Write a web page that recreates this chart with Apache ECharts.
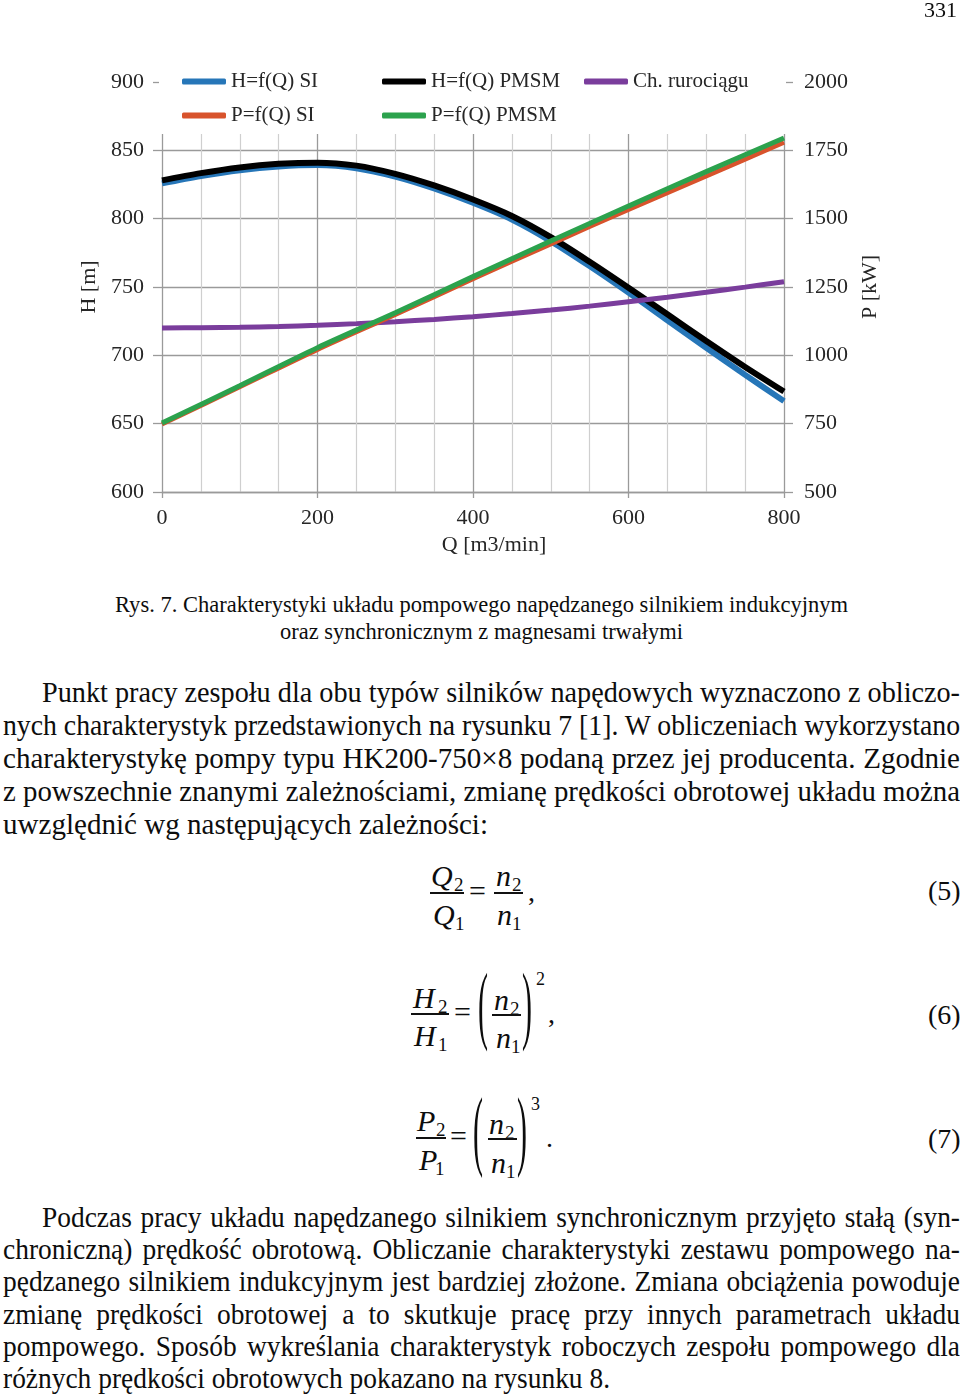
<!DOCTYPE html>
<html>
<head>
<meta charset="utf-8">
<script src="https://cdn.jsdelivr.net/npm/echarts@6/dist/echarts.min.js"></script>
<style>
  html, body { margin:0; padding:0; background:#fff; }
  body { width:960px; height:1397px; position:relative; overflow:hidden; font-family:"Liberation Serif","Times New Roman",serif; color:#0d0d0d; }
  #chart { position:absolute; left:0; top:0; width:960px; height:570px; }
  .t { position:absolute; white-space:nowrap; line-height:1; }
  .ln { position:absolute; white-space:nowrap; transform-origin:0 50%; }
  .bar { position:absolute; height:1.5px; background:#111; }
</style>
</head>
<body>
<div id="chart"></div>
<div id="page"></div>
<script>
// ---------------- data ----------------
const Q_H = [0, 50, 100, 150, 200, 250, 300, 350, 400, 450, 500, 550, 600, 650, 700, 750, 800];
const H_SI   = [825.8, 831.2, 835.5, 838.2, 839.2, 836.9, 830.8, 822.1, 811.6, 799.4, 783.6, 765.3, 745.9, 725.7, 705.5, 685.7, 666.5];
const H_PMSM = [828.0, 833.3, 837.5, 840.1, 841.0, 838.8, 832.8, 824.3, 814.0, 802.0, 786.5, 768.5, 749.5, 730.0, 710.5, 691.5, 673.5];
const H_PIPE = [720.0, 720.2, 720.5, 721.1, 722.0, 723.2, 724.6, 726.3, 728.3, 730.6, 733.1, 736.0, 739.2, 742.5, 746.1, 749.9, 753.8];
const Q_P = [0, 100, 200, 300, 400, 500, 600, 700, 800];
const P_SI   = [748, 884, 1021, 1149, 1279, 1407, 1533, 1655, 1779];
const P_PMSM = [752, 889, 1028, 1156, 1288, 1418, 1546, 1672, 1795];
const X_TICKS = { min: 0, max: 800, step: 200 };
const H_TICKS = { min: 600, max: 900, step: 50 };
const P_TICKS = { min: 500, max: 2000, step: 250 };
const NAMES = ['H=f(Q) SI', 'H=f(Q) PMSM', 'Ch. rurociągu', 'P=f(Q) SI', 'P=f(Q) PMSM'];
const COLORS = ['#2676b8', '#000000', '#7a3d9c', '#d8532c', '#2ca24d'];

function pairs(xs, ys) { return xs.map((x, i) => [x, ys[i]]); }

const FONT = '"Liberation Serif","Times New Roman",serif';
const txt = { fontFamily: FONT, fontSize: 22, color: '#262626' };

const chart = echarts.init(document.getElementById('chart'), null, { renderer: 'canvas' });
const legendBase = {
  orient: 'vertical', top: 71, padding: 0, itemGap: 13, itemWidth: 44, itemHeight: 6,
  icon: 'roundRect', textStyle: Object.assign({}, txt, { fontSize: 21 }), z: 10
};
const plain = v => String(v);
chart.setOption({
  animation: false,
  backgroundColor: '#fff',
  grid: { left: 162, right: 176, top: 82, bottom: 78 },
  legend: [
    Object.assign({}, legendBase, { left: 182, data: [NAMES[0], NAMES[3]] }),
    Object.assign({}, legendBase, { left: 382, data: [NAMES[1], NAMES[4]] }),
    Object.assign({}, legendBase, { left: 584, data: [NAMES[2]] })
  ],
  graphic: [{
    type: 'rect', z: 5, silent: true,
    shape: { x: 159, y: 60, width: 627, height: 74 },
    style: { fill: '#fff' }
  }],
  xAxis: {
    type: 'value', min: X_TICKS.min, max: X_TICKS.max, interval: X_TICKS.step,
    name: 'Q [m3/min]', nameLocation: 'middle', nameGap: 40,
    nameTextStyle: Object.assign({}, txt, { padding: [0, 0, 0, 42] }),
    axisLine: { show: true, lineStyle: { color: '#9a9a9a', width: 1.3 } },
    axisTick: { show: true, length: 6, lineStyle: { color: '#9a9a9a', width: 1.3 } },
    axisLabel: Object.assign({}, txt, { margin: 15, formatter: plain }),
    splitLine: { show: true, lineStyle: { color: '#9a9a9a', width: 1.3 } },
    minorTick: { show: false, splitNumber: 4 },
    minorSplitLine: { show: true, lineStyle: { color: '#cfcfcf', width: 1.2 } }
  },
  yAxis: [{
    type: 'value', min: H_TICKS.min, max: H_TICKS.max, interval: H_TICKS.step,
    name: 'H [m]', nameLocation: 'middle', nameGap: 58, nameRotate: 90,
    nameTextStyle: Object.assign({}, txt),
    axisLine: { show: false },
    axisTick: { show: true, length: 9, lineStyle: { color: '#9a9a9a', width: 1.3 } },
    axisLabel: Object.assign({}, txt, { margin: 18, formatter: plain }),
    splitLine: { show: true, lineStyle: { color: '#9a9a9a', width: 1.3 } }
  }, {
    type: 'value', position: 'right', min: P_TICKS.min, max: P_TICKS.max, interval: P_TICKS.step,
    name: 'P [kW]', nameLocation: 'middle', nameGap: 72, nameRotate: 90,
    nameTextStyle: Object.assign({}, txt),
    axisLine: { show: false },
    axisTick: { show: true, length: 9, lineStyle: { color: '#9a9a9a', width: 1.3 } },
    axisLabel: Object.assign({}, txt, { margin: 20, formatter: plain }),
    splitLine: { show: false }
  }],
  series: [
    { name: NAMES[0], type: 'line', yAxisIndex: 0, data: pairs(Q_H, H_SI), smooth: 0.3, showSymbol: false, color: COLORS[0], lineStyle: { width: 6 }, z: 2 },
    { name: NAMES[1], type: 'line', yAxisIndex: 0, data: pairs(Q_H, H_PMSM), smooth: 0.3, showSymbol: false, color: COLORS[1], lineStyle: { width: 6 }, z: 3 },
    { name: NAMES[2], type: 'line', yAxisIndex: 0, data: pairs(Q_H, H_PIPE), smooth: 0.3, showSymbol: false, color: COLORS[2], lineStyle: { width: 5 }, z: 3 },
    { name: NAMES[3], type: 'line', yAxisIndex: 1, data: pairs(Q_P, P_SI), smooth: 0.3, showSymbol: false, color: COLORS[3], lineStyle: { width: 4.5 }, z: 4 },
    { name: NAMES[4], type: 'line', yAxisIndex: 1, data: pairs(Q_P, P_PMSM), smooth: 0.3, showSymbol: false, color: COLORS[4], lineStyle: { width: 5 }, z: 4 }
  ]
});

// ---------------- page text ----------------
const page = document.getElementById('page');
function el(cls, css, text) {
  const d = document.createElement('div');
  d.className = cls; d.textContent = text;
  Object.assign(d.style, css);
  page.appendChild(d);
  return d;
}
// place text by baseline (Liberation Serif: baseline at 0.8375em with line-height 1)
function put(text, x, base, size, italic) {
  return el('t', { left: x + 'px', top: (base - 0.8375 * size) + 'px', fontSize: size + 'px', fontStyle: italic ? 'italic' : 'normal' }, text);
}
function bar(x1, x2, y) { el('bar', { left: x1 + 'px', top: (y - 0.75) + 'px', width: (x2 - x1) + 'px' }, ''); }
function paren(ch, x, cy, sy) {
  const size = 30, c = 0.8375 * size - 0.24 * size;
  return el('t', { left: x + 'px', top: (cy - c) + 'px', fontSize: size + 'px', transformOrigin: '50% ' + c + 'px', transform: 'scaleY(' + sy + ')' }, ch);
}

// page number
const pn = put('331', 0, 17, 22, false);
pn.style.left = (957 - pn.getBoundingClientRect().width) + 'px';

// line fitting helper
function line(text, left, right, cy, size, mode, scaleHint) {
  const d = el('ln', { left: left + 'px', top: (cy - size * 0.6) + 'px', fontSize: size + 'px', lineHeight: (size * 1.2) + 'px' }, text);
  const nat = d.getBoundingClientRect().width;
  const target = right - left;
  if (mode === 'fit') {
    d.style.transform = 'scaleX(' + (target / nat) + ')';
    return target / nat;
  }
  let s = scaleHint || 1;
  if (nat * s > target) s = target / nat;
  d.style.width = (target / s) + 'px';
  d.style.textAlign = 'justify';
  d.style.textAlignLast = 'justify';
  d.style.transform = 'scaleX(' + s + ')';
  return s;
}

// caption
line('Rys. 7. Charakterystyki układu pompowego napędzanego silnikiem indukcyjnym', 115, 848, 605, 23, 'fit');
line('oraz synchronicznym z magnesami trwałymi', 280, 683, 632, 23, 'fit');

const FS = 29;
// paragraph 1
const p1 = [
  'Punkt pracy zespołu dla obu typów silników napędowych wyznaczono z obliczo-',
  'nych charakterystyk przedstawionych na rysunku 7 [1]. W obliczeniach wykorzystano',
  'charakterystykę pompy typu HK200-750×8 podaną przez jej producenta. Zgodnie',
  'z powszechnie znanymi zależnościami, zmianę prędkości obrotowej układu można'
];
const s1 = line('uwzględnić wg następujących zależności:', 3, 488, 824, FS, 'fit');
const p1y = [692, 725, 758, 791];
p1.forEach((t, i) => line(t, i === 0 ? 42 : 3, 960, p1y[i], FS, 'justify', s1));

// equations
// (5)
put('Q', 431, 886, 30, true); put('2', 454, 891, 19, false);
bar(430, 464, 893);
put('Q', 433, 925, 30, true); put('1', 455, 930, 19, false);
put('=', 469, 901, 30, false);
put('n', 496, 886, 30, true); put('2', 512, 891, 19, false);
bar(494, 523, 893);
put('n', 497, 925, 30, true); put('1', 512, 930, 19, false);
put(',', 528, 901, 28, false);
put('(5)', 928, 900, 28, false);
// (6)
put('H', 413, 1008, 30, true); put('2', 438, 1013, 19, false);
bar(411, 449, 1014);
put('H', 414, 1046, 30, true); put('1', 438, 1051, 19, false);
put('=', 454, 1022, 30, false);
paren('(', 478, 1013, 2.9);
put('n', 494, 1010, 30, true); put('2', 510, 1015, 19, false);
bar(492, 521, 1015);
put('n', 496, 1048, 30, true); put('1', 511, 1053, 19, false);
paren(')', 522, 1013, 2.9);
put('2', 536, 985, 18, false);
put(',', 548, 1023, 28, false);
put('(6)', 928, 1024, 28, false);
// (7)
put('P', 417, 1131, 30, true); put('2', 436, 1136, 19, false);
bar(416, 446, 1138);
put('P', 419, 1170, 30, true); put('1', 435, 1175, 19, false);
put('=', 450, 1146, 30, false);
paren('(', 473, 1138, 2.95);
put('n', 489, 1134, 30, true); put('2', 505, 1139, 19, false);
bar(488, 517, 1139);
put('n', 491, 1173, 30, true); put('1', 506, 1178, 19, false);
paren(')', 517, 1138, 2.95);
put('3', 531, 1110, 18, false);
put('.', 546, 1147, 28, false);
put('(7)', 928, 1148, 28, false);

// paragraph 2
const p2 = [
  'Podczas pracy układu napędzanego silnikiem synchronicznym przyjęto stałą (syn-',
  'chroniczną) prędkość obrotową. Obliczanie charakterystyki zestawu pompowego na-',
  'pędzanego silnikiem indukcyjnym jest bardziej złożone. Zmiana obciążenia powoduje',
  'zmianę prędkości obrotowej a to skutkuje pracę przy innych parametrach układu',
  'pompowego. Sposób wykreślania charakterystyk roboczych zespołu pompowego dla'
];
const s2 = line('różnych prędkości obrotowych pokazano na rysunku 8.', 3, 610, 1378, FS, 'fit');
const p2y = [1217, 1249, 1281, 1314, 1346];
p2.forEach((t, i) => line(t, i === 0 ? 42 : 3, 960, p2y[i], FS, 'justify', s2));
</script>
</body>
</html>
